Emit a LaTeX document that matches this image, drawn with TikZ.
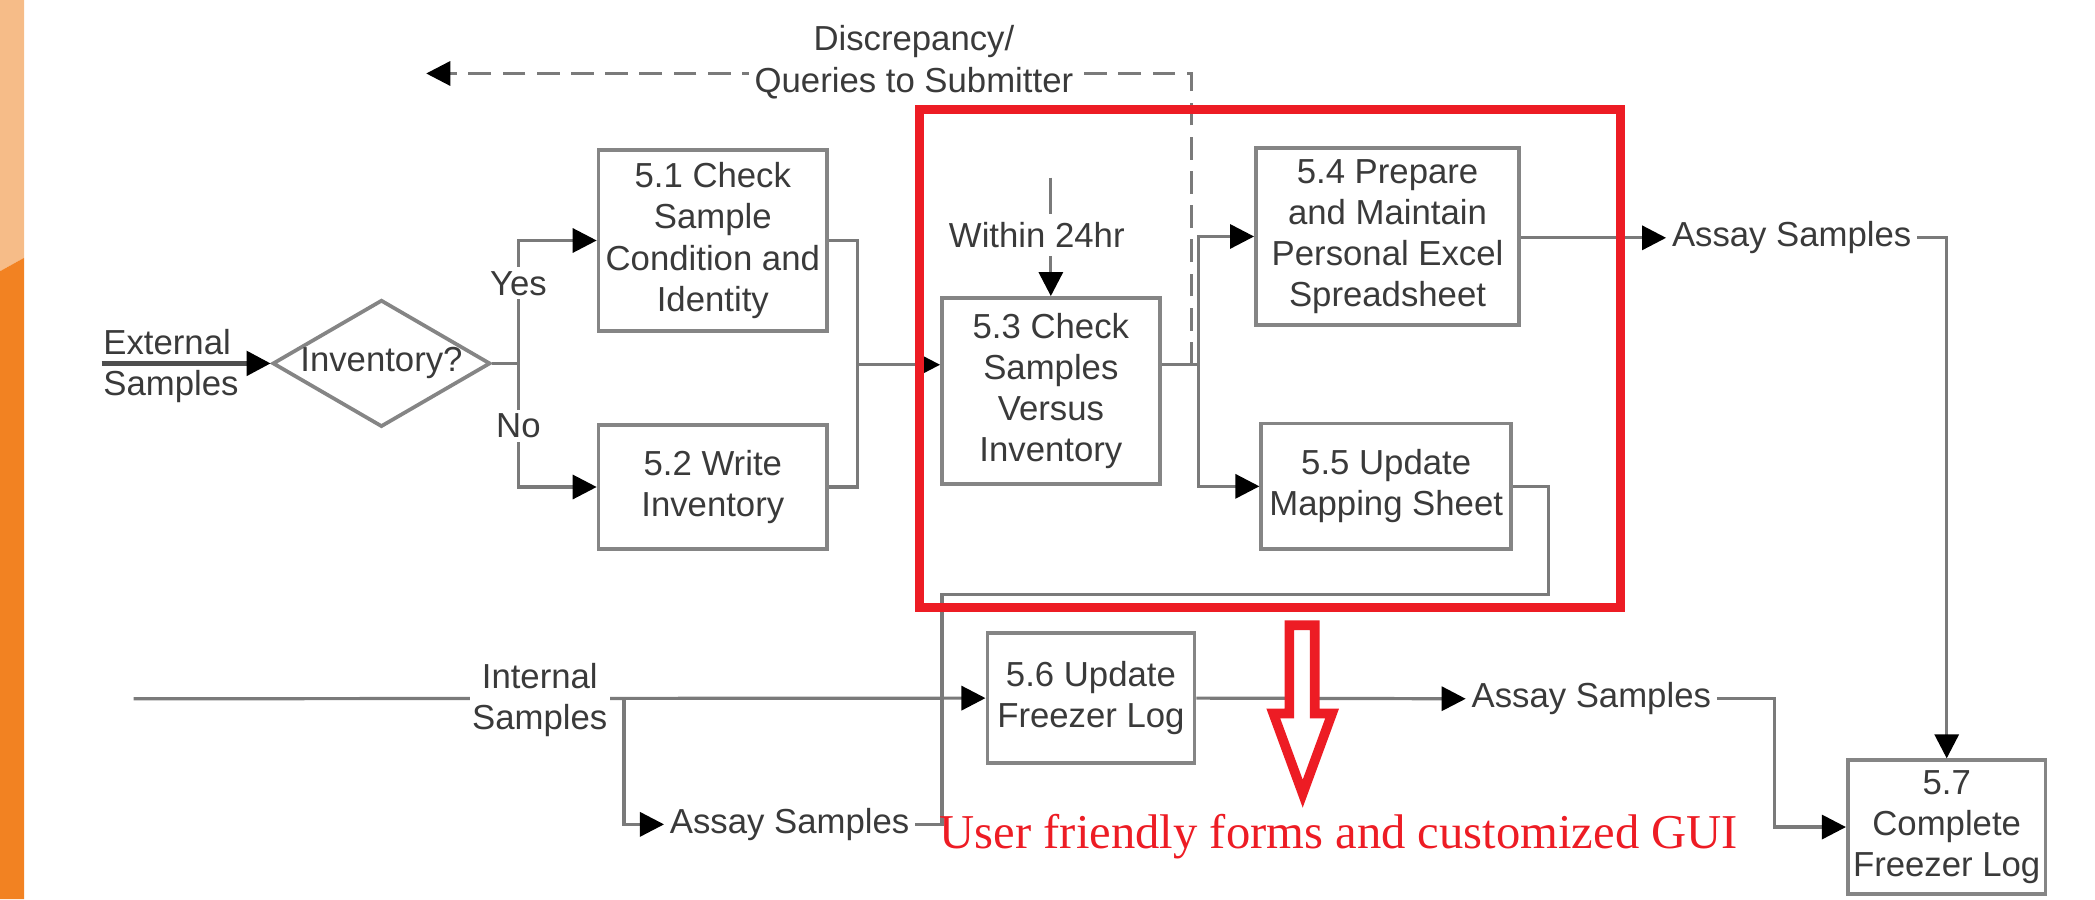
\documentclass[tikz,border=0pt]{standalone}
\usepackage{fontspec}
\setmainfont{Liberation Sans}
\newfontfamily\serifred{Liberation Serif}
\usetikzlibrary{arrows.meta,shapes.geometric}
\definecolor{lineg}{HTML}{7A7A7A}
\definecolor{darkline}{HTML}{4E4E4E}
\definecolor{boxg}{HTML}{858585}
\definecolor{txtg}{HTML}{3A3A3A}
\definecolor{redann}{HTML}{ED1C24}
\definecolor{orlight}{HTML}{F6BC88}
\definecolor{ordark}{HTML}{F28222}
\begin{document}
\begin{tikzpicture}[x=0.5pt,y=-0.5pt,
  font=\fontsize{13}{15.4}\selectfont,
  every node/.style={text=txtg},
  procbox/.style={draw=boxg, line width=1.4pt, align=center, inner sep=0pt, fill=white},
  conn/.style={draw=lineg, line width=1.2pt},
  arr/.style={conn, -{Triangle[length=9pt,width=9pt,color=black]}},
  lbl/.style={fill=white, inner sep=1.5pt, align=center},
  assay/.style={anchor=west, inner xsep=2pt, inner ysep=1pt},
]
\useasboundingbox (0,0) rectangle (1568,673);
% left orange band
\fill[orlight] (0,0) -- (18,0) -- (18,193) -- (0,203) -- cycle;
\fill[ordark] (0,203) -- (18,193) -- (18,673) -- (0,673) -- cycle;

% process boxes
\node[procbox, minimum width=85.5pt, minimum height=68pt] (b51) at (533.5,180) {5.1 Check\\Sample\\Condition and\\Identity};
\node[procbox, minimum width=85.5pt, minimum height=46.5pt] (b52) at (533.5,364.5) {5.2 Write\\Inventory};
\node[procbox, minimum width=81.5pt, minimum height=69.5pt] (b53) at (786.5,292.5) {5.3 Check\\Samples\\Versus\\Inventory};
\node[procbox, minimum width=98.5pt, minimum height=66pt] (b54) at (1038.5,177) {5.4 Prepare\\and Maintain\\Personal Excel\\Spreadsheet};
\node[procbox, minimum width=93.5pt, minimum height=47pt] (b55) at (1037.5,364) {5.5 Update\\Mapping Sheet};
\node[procbox, minimum width=77.5pt, minimum height=48.5pt] (b56) at (816.5,522.5) {5.6 Update\\Freezer Log};
\node[procbox, minimum width=74pt, minimum height=50pt] (b57) at (1457,619) {5.7\\Complete\\Freezer Log};
\node[draw=boxg, line width=1.4pt, diamond, aspect=1.716, inner sep=0pt, minimum width=81.5pt, minimum height=47.5pt] (dia) at (285.5,272) {Inventory?};

% external samples
\coordinate (ext) at (76,272);
\draw[arr, draw=darkline, line width=1.8pt] (ext) -- (dia.west);
\node[anchor=base west, inner sep=0pt] (extA) at (77,265) {External};
\node[anchor=base west, inner sep=0pt] (extB) at (77,296) {Samples};

% yes / no branch
\coordinate (yn) at (388,272);
\draw[conn] (dia.east) -- (yn);
\draw[arr] (yn) |- (b51.west);
\draw[arr] (yn) |- (b52.west);
\node[lbl] (yes) at (388,212) {Yes};
\node[lbl] (no) at (388,319) {No};

% merge into 5.3
\coordinate (m1) at (642,273);
\draw[conn] (b51.east) -| (m1) |- (b52.east);
\draw[arr] (m1) -- (b53.west |- m1);

% within 24hr
\coordinate (w24) at (786.5,133);
\draw[arr] (w24) -- (b53.north);
\node[fill=white, inner xsep=1pt, inner ysep=3pt] (w24l) at (776,176) {Within 24hr};

% dashed discrepancy line
\coordinate (d0) at (892,273);
\coordinate (d1) at (892,55);
\coordinate (dend) at (319,55);
\draw[arr, dash pattern=on 8.5pt off 4.3pt] (d0) -- (d1) -- (dend);
\node[inner sep=0pt] (disc) at (684,31) {Discrepancy/};
\node[fill=white, inner xsep=2pt, inner ysep=1pt] (quer) at (684,62) {Queries to Submitter};

% 5.3 outputs
\coordinate (m2) at (897,273);
\draw[conn] (b53.east |- m2) -- (m2);
\draw[arr] (m2) |- (b54.west);
\draw[arr] (m2) |- (b55.west);

% 5.4 output
\node[assay] (as1) at (1247,178) {Assay Samples};
\draw[arr] (b54.east |- as1.west) -- (as1.west);
\draw[arr] (as1.east) -| (b57.north);

% lower assay samples node
\node[assay] (as3) at (497,617) {Assay Samples};

% 5.5 output
\coordinate (c1) at (1159,445);
\coordinate (c2) at (705,445);
\draw[conn] (b55.east) -| (c1) -- (c2) |- (as3.east);

% internal samples
\coordinate (int0) at (100,523);
\draw[arr] (int0) -- (b56.west);
\coordinate (br) at (467,523);
\draw[arr] (br) |- (as3.west);
\node[fill=white, inner xsep=1pt, inner ysep=1pt, align=center] (intl) at (404,524) {Internal\\Samples};

% 5.6 output
\node[assay] (as2) at (1097,523) {Assay Samples};
\draw[arr] (b56.east) -- (as2.west);
\coordinate (c3) at (1328,523);
\draw[arr] (as2.east) -- (c3) |- (b57.west);

% red annotations
\draw[redann, line width=3.4pt] (688,82) rectangle (1213,455);
\draw[redann, line width=3.6pt, fill=white, line join=miter] (965,468) -- (984,468) -- (984,534) -- (997,534) -- (975,594) -- (953,534) -- (965,534) -- cycle;
\node[anchor=base west, inner sep=0pt, text=redann, font=\serifred\fontsize{18.2}{20}\selectfont] (gui) at (703,635) {User friendly forms and customized GUI};
\end{tikzpicture}
\end{document}
